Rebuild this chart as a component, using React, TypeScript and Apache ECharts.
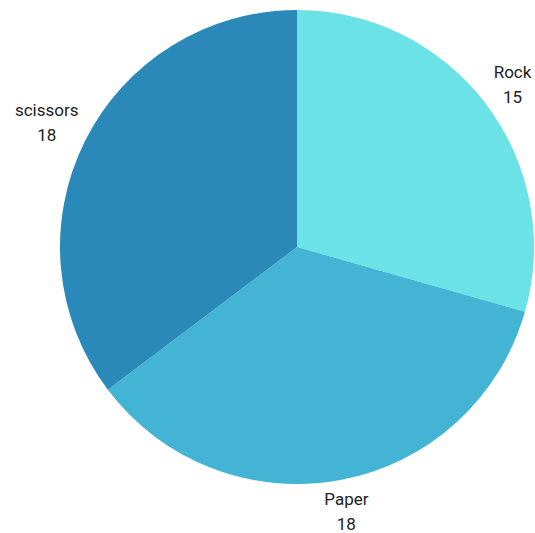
import React, { useEffect, useRef } from "react";
import * as echarts from "echarts";

const categories = ["Rock", "Paper", "scissors"];
const values = [15, 18, 18];
const colors = ["#6ae2e6", "#43b4d3", "#2a89b8"];

const CX = 297;
const CY = 247;
const R = 237;
const GAP = 3;

export default function App() {
  const ref = useRef<HTMLDivElement>(null);
  useEffect(() => {
    if (!ref.current) return;
    const chart = echarts.init(ref.current, undefined, { renderer: "svg" });
    const total = values.reduce((a, b) => a + b, 0);
    const mids: number[] = [];
    let acc = 0;
    values.forEach((v) => {
      mids.push(((acc + v / 2) / total) * Math.PI * 2);
      acc += v;
    });
    chart.setOption({
      animation: false,
      series: [
        {
          type: "pie",
          center: [CX, CY],
          radius: [0, R],
          startAngle: 90,
          clockwise: true,
          avoidLabelOverlap: false,
          data: categories.map((c, i) => ({
            name: c,
            value: values[i],
            itemStyle: { color: colors[i] },
          })),
          label: {
            show: true,
            position: "inside",
            formatter: "{b}\n{c}",
            color: "#222",
            fontSize: 17,
            lineHeight: 25,
            overflow: "none",
            fontFamily: "Roboto, 'Noto Sans', sans-serif",
            align: "center",
          },
          labelLine: { show: false },
          labelLayout: (params: any) => {
            const a = mids[params.dataIndex];
            const sx = Math.sin(a);
            const sy = -Math.cos(a);
            const w = params.labelRect.width;
            const h = params.labelRect.height;
            const d = R + GAP + Math.abs(sx) * (w / 2) + Math.abs(sy) * (h / 2);
            return {
              x: CX + sx * d,
              y: CY + sy * d,
              align: "center",
              verticalAlign: "middle",
            };
          },
          emphasis: { disabled: true },
        },
      ],
    });
    return () => chart.dispose();
  }, []);
  return (
    <div
      ref={ref}
      style={{ position: "fixed", left: 0, top: 0, width: 535, height: 533, background: "#fff" }}
    />
  );
}
